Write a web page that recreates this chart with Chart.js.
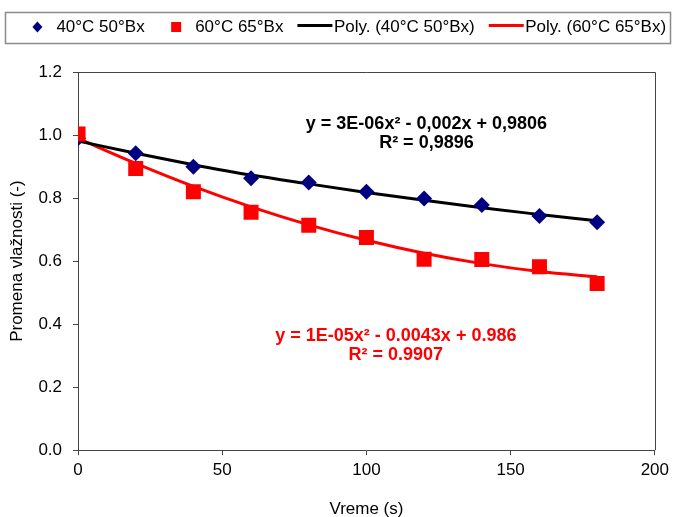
<!DOCTYPE html>
<html>
<head>
<meta charset="utf-8">
<script src="https://cdn.jsdelivr.net/npm/chart.js@4"></script>
<style>
    html, body { margin: 0; padding: 0; background: #ffffff; }
    #wrap { width: 674px; height: 517px; }
</style>
</head>
<body>
<div id="wrap"><canvas id="moistureChart" width="674" height="517"></canvas></div>
<script>
// time points (s)
const times = [0, 20, 40, 60, 80, 100, 120, 140, 160, 180];

// measured moisture ratio
const moist40 = [0.990, 0.942, 0.899, 0.863, 0.849, 0.820, 0.799, 0.778, 0.743, 0.723];
const moist60 = [1.003, 0.894, 0.820, 0.755, 0.714, 0.675, 0.606, 0.605, 0.582, 0.529];

// trendlines
const trend40 = [0.981, 0.942, 0.906, 0.873, 0.845, 0.818, 0.793, 0.769, 0.748, 0.728];
const trend60 = [0.989, 0.910, 0.837, 0.772, 0.715, 0.666, 0.625, 0.592, 0.567, 0.550];

const seriesNames = ['40°C 50°Bx', '60°C 65°Bx', 'Poly. (40°C 50°Bx)', 'Poly. (60°C 65°Bx)'];

const eq40 = ['y = 3E-06x² - 0,002x + 0,9806', 'R² = 0,9896'];
const eq60 = ['y = 1E-05x² - 0.0043x + 0.986', 'R² = 0.9907'];

const FONT = '"Liberation Sans", Arial, sans-serif';

function toPoints(xs, ys) {
    return xs.map(function(x, i) { return { x: x, y: ys[i] }; });
}

// Excel-like legend in a box, plot frame and the equation labels
const framePlugin = {
    id: 'frame',
    afterDraw: function(chart) {
        const ctx = chart.ctx;
        const area = chart.chartArea;
        ctx.save();

        // legend box
        ctx.strokeStyle = '#8a8a8a';
        ctx.lineWidth = 1.5;
        ctx.strokeRect(5.5, 12.5, chart.width - 9, 31);

        ctx.font = '17px ' + FONT;
        ctx.textBaseline = 'middle';
        ctx.textAlign = 'left';
        const symW = 35, textGap = 1.5, itemGap = 14;
        let total = 0;
        chart.data.datasets.forEach(function(ds) {
            total += symW + textGap + ctx.measureText(ds.label).width + itemGap;
        });
        total -= itemGap;
        let x = 343 - total / 2;
        const cy = 27;
        chart.data.datasets.forEach(function(ds) {
            const mid = x + symW / 2;
            ctx.fillStyle = ds.backgroundColor;
            ctx.strokeStyle = ds.borderColor;
            if (ds.pointStyle === 'line') {
                ctx.lineWidth = 3;
                ctx.beginPath();
                ctx.moveTo(x, cy - 1.5);
                ctx.lineTo(x + symW, cy - 1.5);
                ctx.stroke();
            } else if (ds.pointStyle === 'rectRot') {
                ctx.beginPath();
                ctx.moveTo(mid, cy - 5.5);
                ctx.lineTo(mid + 5, cy);
                ctx.lineTo(mid, cy + 5.5);
                ctx.lineTo(mid - 5, cy);
                ctx.closePath();
                ctx.fill();
            } else {
                ctx.fillRect(mid - 5, cy - 5, 10, 10);
            }
            ctx.fillStyle = '#000000';
            ctx.fillText(ds.label, x + symW + textGap, cy);
            x += symW + textGap + ctx.measureText(ds.label).width + itemGap;
        });

        // top and right side of the plot frame
        ctx.strokeStyle = '#444444';
        ctx.lineWidth = 1;
        ctx.beginPath();
        ctx.moveTo(area.left, Math.round(area.top) + 0.5);
        ctx.lineTo(Math.round(area.right) + 0.5, Math.round(area.top) + 0.5);
        ctx.lineTo(Math.round(area.right) + 0.5, area.bottom);
        ctx.stroke();

        // equations
        const xs = chart.scales.x;
        const ys = chart.scales.y;
        ctx.font = 'bold 18px ' + FONT;
        ctx.textAlign = 'center';
        ctx.fillStyle = '#000000';
        ctx.fillText(eq40[0], xs.getPixelForValue(120.8), ys.getPixelForValue(1.035));
        ctx.fillText(eq40[1], xs.getPixelForValue(120.8), ys.getPixelForValue(0.975));
        ctx.fillStyle = '#ff0000';
        ctx.fillText(eq60[0], xs.getPixelForValue(110.2), ys.getPixelForValue(0.362));
        ctx.fillText(eq60[1], xs.getPixelForValue(110.2), ys.getPixelForValue(0.302));
        ctx.restore();
    }
};

document.addEventListener("DOMContentLoaded", function() {
    const ctx = document.getElementById('moistureChart').getContext('2d');

    new Chart(ctx, {
        type: 'scatter',
        data: {
            datasets: [
                {
                    label: seriesNames[0],
                    data: toPoints(times, moist40),
                    pointStyle: 'rectRot',
                    pointRadius: 8,
                    backgroundColor: '#000080',
                    borderColor: '#000080',
                    borderWidth: 0,
                    showLine: false,
                    order: 1
                },
                {
                    label: seriesNames[1],
                    data: toPoints(times, moist60),
                    pointStyle: 'rect',
                    pointRadius: 10.6,
                    backgroundColor: '#ff0000',
                    borderColor: '#ff0000',
                    borderWidth: 0,
                    showLine: false,
                    order: 0
                },
                {
                    label: seriesNames[2],
                    data: toPoints(times, trend40),
                    pointStyle: 'line',
                    pointRadius: 0,
                    showLine: true,
                    borderColor: '#000000',
                    backgroundColor: '#000000',
                    borderWidth: 3,
                    cubicInterpolationMode: 'monotone',
                    order: 2
                },
                {
                    label: seriesNames[3],
                    data: toPoints(times, trend60),
                    pointStyle: 'line',
                    pointRadius: 0,
                    showLine: true,
                    borderColor: '#ff0000',
                    backgroundColor: '#ff0000',
                    borderWidth: 3,
                    cubicInterpolationMode: 'monotone',
                    order: 3
                }
            ]
        },
        options: {
            responsive: false,
            animation: false,
            layout: {
                padding: { top: 72, right: 17, left: 7, bottom: 0 }
            },
            scales: {
                x: {
                    type: 'linear',
                    min: 0,
                    max: 200,
                    ticks: {
                        stepSize: 50,
                        color: '#000000',
                        font: { family: FONT, size: 17 },
                        padding: 5
                    },
                    grid: {
                        drawOnChartArea: false,
                        drawTicks: true,
                        tickLength: 5,
                        color: '#444444'
                    },
                    border: { color: '#444444' },
                    title: {
                        display: true,
                        text: 'Vreme (s)',
                        color: '#000000',
                        font: { family: FONT, size: 17 },
                        padding: { top: 14, bottom: -3 }
                    }
                },
                y: {
                    min: 0,
                    max: 1.2,
                    ticks: {
                        stepSize: 0.2,
                        color: '#000000',
                        font: { family: FONT, size: 17 },
                        padding: 11,
                        callback: function(v) { return v.toFixed(1); }
                    },
                    grid: {
                        drawOnChartArea: false,
                        drawTicks: true,
                        tickLength: 5,
                        color: '#444444'
                    },
                    border: { color: '#444444' },
                    title: {
                        display: true,
                        text: 'Promena vlažnosti (-)',
                        color: '#000000',
                        font: { family: FONT, size: 17 },
                        padding: { top: 0, bottom: 0 }
                    }
                }
            },
            plugins: {
                legend: { display: false },
                tooltip: { enabled: false }
            }
        },
        plugins: [framePlugin]
    });
});
</script>
</body>
</html>
